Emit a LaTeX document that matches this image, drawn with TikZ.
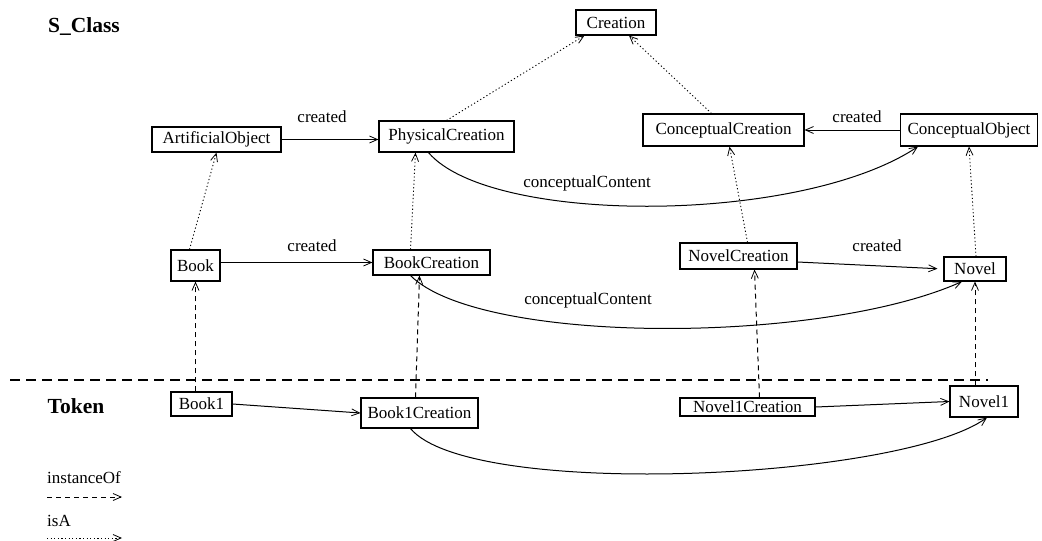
\documentclass[tikz,border=0pt]{standalone}
\usepackage{fontspec}
\setmainfont{Liberation Serif}
\usetikzlibrary{arrows.meta,calc}
\begin{document}
\begin{tikzpicture}[x=1pt,y=-1pt,
  every node/.style={font=\fontsize{17}{20}\selectfont, inner sep=0pt},
  cls/.style={draw, line width=1.1pt, minimum width=#1},
  heading/.style={font=\fontsize{21.5}{24}\selectfont\bfseries},
  >={Straight Barb[length=8pt,width=7pt,line width=0.8pt]},
  rel/.style={->, line width=1pt},
  isa/.style={->, line width=0.9pt, dash pattern=on 1.2pt off 2.4pt},
  inst/.style={->, line width=1pt, dash pattern=on 5pt off 4pt},
  lbl/.style={font=\fontsize{17}{20}\selectfont}]
\useasboundingbox (0,0) rectangle (1042,541);

% headings
\node[heading] (sclass) at (84,27) {S\_Class};
\node[heading] (token) at (76,406) {Token};

% class level
\node[cls=80pt, minimum height=25pt] (cr) at (616,22.5) {Creation};
\node[cls=129pt, minimum height=25pt] (ao) at (216.5,139.5) {ArtificialObject};
\node[cls=135pt, minimum height=31pt] (pc) at (446.5,136.5) {PhysicalCreation};
\node[cls=161pt, minimum height=32pt] (cc) at (723.5,130) {ConceptualCreation};
\node[cls=137pt, minimum height=32pt] (co) at (969,130) {ConceptualObject};
\node[cls=49pt, minimum height=31pt] (bk) at (195.5,265.5) {Book};
\node[cls=117pt, minimum height=25pt] (bc) at (431.5,262.5) {BookCreation};
\node[cls=117pt, minimum height=26pt] (nc) at (738.5,256) {NovelCreation};
\node[cls=62pt, minimum height=24pt] (nv) at (975,269) {Novel};

% token level
\node[cls=61pt, minimum height=24pt] (b1) at (201.5,404) {Book1};
\node[cls=117pt, minimum height=30pt] (b1c) at (419.5,413) {Book1Creation};
\node[cls=135pt, minimum height=18pt] (n1c) at (747.5,407) {Novel1Creation};
\node[cls=68pt, minimum height=31pt] (n1) at (984,401.5) {Novel1};

% level separator
\coordinate (sepL) at (10,380);
\coordinate (sepR) at (988,380);
\draw[line width=2pt, dash pattern=on 10pt off 6pt] (sepL) -- (sepR);

% created relations
\draw[rel] (ao.east) -- (ao.east -| pc.west);
\node[lbl] (l1) at (322,117) {created};
\draw[rel] (bk.east |- bc.west) -- (bc.west);
\node[lbl] (l2) at (312,246) {created};
\draw[rel] (co.west) -- (cc.east);
\node[lbl] (l3) at (857,117) {created};
\draw[rel, shorten >=6pt] ([yshift=-6pt]nc.east) -- (nv.west);
\node[lbl] (l4) at (877,246) {created};
\draw[rel] (b1.east) -- (b1c.west);
\draw[rel] (n1c.east) -- (n1.west);

% conceptualContent relations
\draw[rel] ([xshift=-18pt]pc.south) .. controls (490,225) and (800,225) .. ([xshift=-51pt]co.south);
\node[lbl] (l5) at (587,183) {conceptualContent};
\draw[rel] ([xshift=-21pt]bc.south) .. controls (480,345) and (820,345) .. ([xshift=-13pt]nv.south);
\node[lbl] (l6) at (588,300) {conceptualContent};
\draw[rel] ([xshift=-9pt]b1c.south) .. controls (470,500) and (900,480) .. ([xshift=3pt]n1.south);

% isA relations
\draw[isa] ([xshift=-6pt]bk.north) -- (ao.south);
\draw[isa] ([xshift=-21pt]bc.north) -- ([xshift=-31pt]pc.south);
\draw[isa] (pc.north) -- ([xshift=9pt]cr.south west);
\draw[isa] ([xshift=-12pt]cc.north) -- ([xshift=13pt]cr.south);
\draw[isa] ([xshift=9pt]nc.north) -- ([xshift=6pt]cc.south);
\draw[isa] ([xshift=1pt]nv.north) -- (co.south);

% instanceOf relations
\draw[inst] (b1.north -| bk.south) -- (bk.south);
\draw[inst] ([xshift=-4pt]b1c.north) -- (b1c.north |- bc.south);
\draw[inst] ([xshift=12pt]n1c.north) -- ([xshift=16pt]nc.south);
\draw[inst] (n1.north -| nv.south) -- (nv.south);

% legend
\node[lbl, anchor=west] (lgI) at (47,478) {instanceOf};
\coordinate (lgIa) at (47,497);
\coordinate (lgIb) at (122,497);
\draw[inst] (lgIa) -- (lgIb);
\node[lbl, anchor=west] (lgA) at (47,521) {isA};
\coordinate (lgAa) at (47,538);
\coordinate (lgAb) at (122,538);
\draw[isa] (lgAa) -- (lgAb);
\end{tikzpicture}
\end{document}
